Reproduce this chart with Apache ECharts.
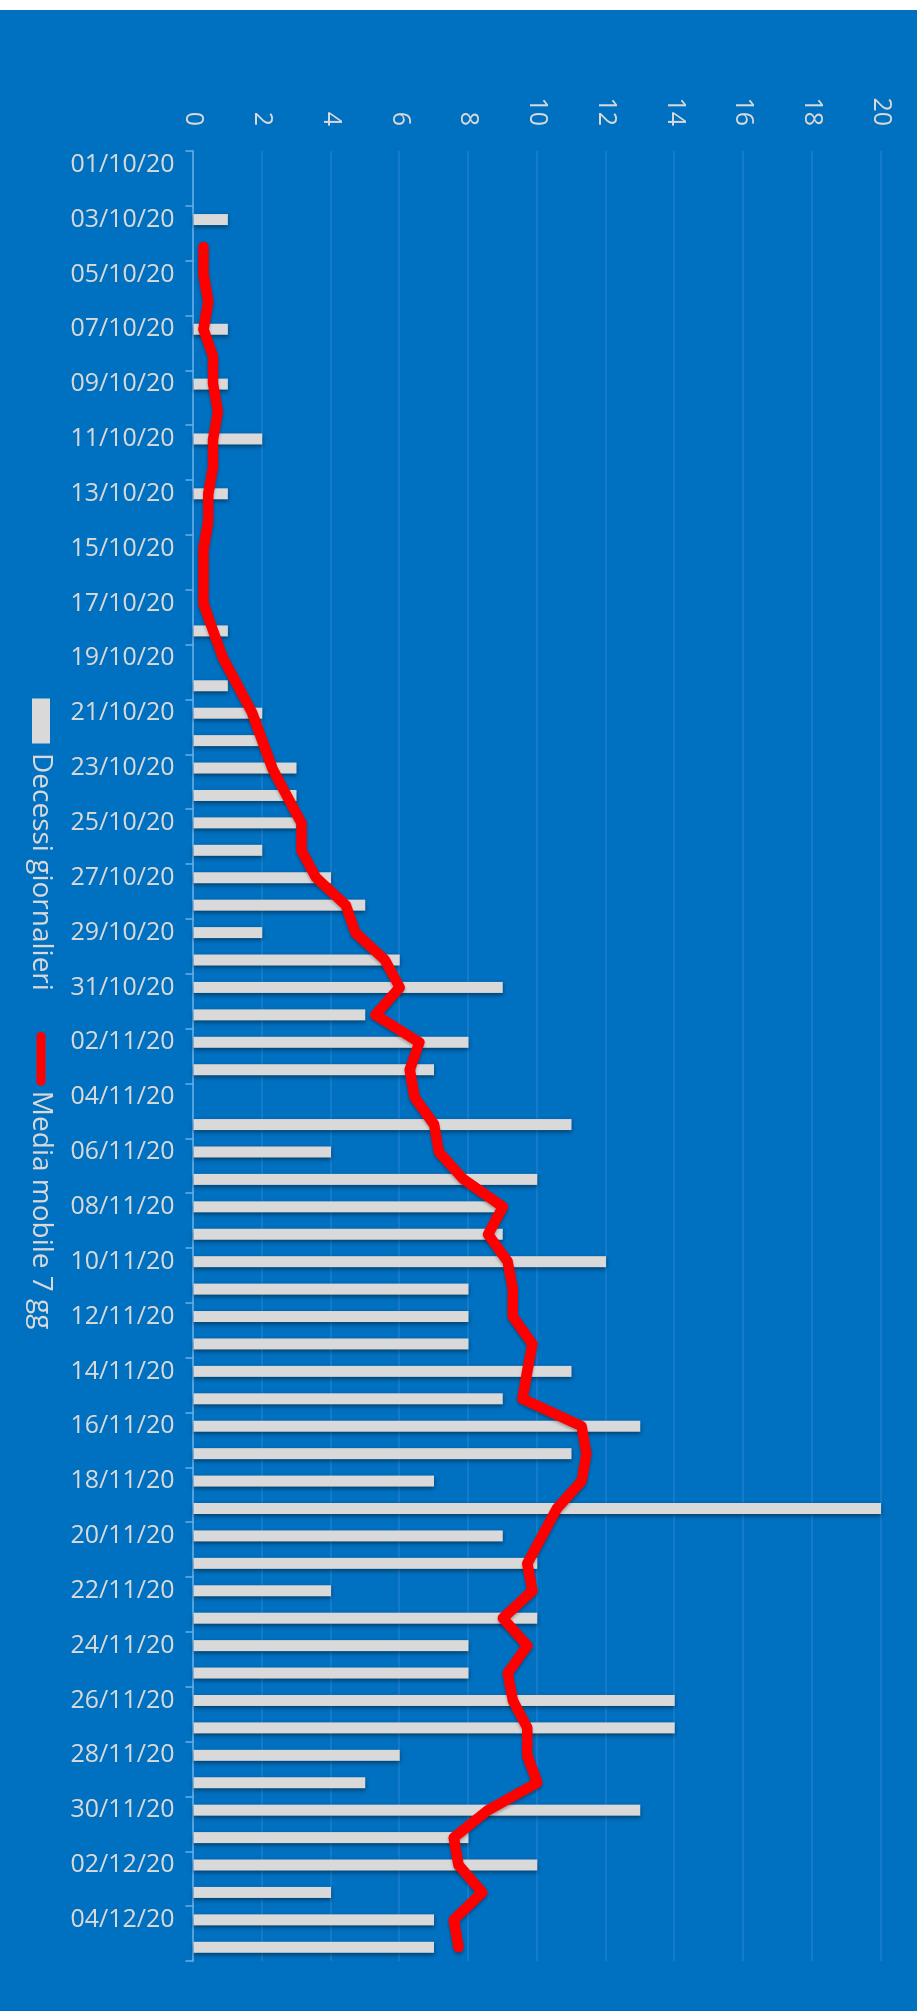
<!DOCTYPE html>
<html>
<head>
<meta charset="utf-8">
<script src="https://cdn.jsdelivr.net/npm/echarts@6/dist/echarts.min.js"></script>
<style>
  html, body { margin: 0; padding: 0; background: #ffffff; width: 917px; height: 2011px; overflow: hidden; }
  #wrap { position: absolute; left: 0; top: 0; width: 2011px; height: 917px;
          transform-origin: 0 0; transform: translate(917px, 0) rotate(90deg); }
  #chart { position: absolute; left: 10px; top: 0; width: 2001px; height: 917px; }
</style>
</head>
<body>
<div id="wrap"><div id="chart"></div></div>
<script>
const categories = [
  '01/10/20','02/10/20','03/10/20','04/10/20','05/10/20','06/10/20','07/10/20','08/10/20','09/10/20','10/10/20',
  '11/10/20','12/10/20','13/10/20','14/10/20','15/10/20','16/10/20','17/10/20','18/10/20','19/10/20','20/10/20',
  '21/10/20','22/10/20','23/10/20','24/10/20','25/10/20','26/10/20','27/10/20','28/10/20','29/10/20','30/10/20',
  '31/10/20',
  '01/11/20','02/11/20','03/11/20','04/11/20','05/11/20','06/11/20','07/11/20','08/11/20','09/11/20','10/11/20',
  '11/11/20','12/11/20','13/11/20','14/11/20','15/11/20','16/11/20','17/11/20','18/11/20','19/11/20','20/11/20',
  '21/11/20','22/11/20','23/11/20','24/11/20','25/11/20','26/11/20','27/11/20','28/11/20','29/11/20','30/11/20',
  '01/12/20','02/12/20','03/12/20','04/12/20','05/12/20'
];
const decessiGiornalieri = [
  0,0,1,0,0,0,1,0,1,0, 2,0,1,0,0,0,0,1,0,1, 2,2,3,3,3,2,4,5,2,6, 9,
  5,8,7,0,11,4,10,9,9,12, 8,8,8,11,9,13,11,7,20,9, 10,4,10,8,8,14,14,6,5,13,
  8,10,4,7,7
];
const mediaMobile7gg = [
  null,null,null,0.29,0.29,0.43,0.29,0.57,0.57,0.71, 0.57,0.57,0.43,0.43,0.29,0.29,0.29,0.57,0.86,1.29,
  1.71,2.0,2.29,2.71,3.14,3.14,3.57,4.43,4.71,5.57, 6.0,
  5.29,6.57,6.29,6.43,7.0,7.14,7.86,9.0,8.57,9.14, 9.29,9.29,9.86,9.71,9.57,11.29,11.43,11.29,10.57,10.14,
  9.71,9.86,9.0,9.71,9.14,9.29,9.71,9.71,10.0,8.57,
  7.57,7.71,8.4,7.57,7.71
];
const valueMin = 0, valueMax = 20, valueStep = 2;
const seriesNames = ['Decessi giornalieri', 'Media mobile 7 gg'];

const txt = '#d9d9d9';
const axisBlue = '#6aaee8';
const chart = echarts.init(document.getElementById('chart'), null, { renderer: 'canvas' });
chart.setOption({
  animation: false,
  backgroundColor: '#0070c0',
  textStyle: { fontFamily: 'Open Sans' },
  grid: { left: 141, right: 50, top: 36, bottom: 193.5, containLabel: false },
  legend: {
    orient: 'horizontal',
    left: 688.5,
    top: 862,
    padding: 0,
    itemWidth: 54,
    itemHeight: 18,
    itemGap: 41,
    symbolKeepAspect: true,
    textStyle: { color: txt, fontSize: 28, fontFamily: 'Open Sans' },
    data: [
      { name: seriesNames[0], icon: 'path://M0,0 L45,0 L45,18 L0,18 Z',
        itemStyle: { color: '#d9d9d9', shadowBlur: 0, shadowOffsetX: 0, shadowColor: 'transparent' } },
      { name: seriesNames[1], icon: 'path://M4.5,0 L49.5,0 A4.5,4.5 0 0 1 49.5,9 L4.5,9 A4.5,4.5 0 0 1 4.5,0 Z',
        itemStyle: { color: '#ff0000', shadowBlur: 0, shadowColor: 'transparent' } }
    ]
  },
  xAxis: {
    type: 'category',
    data: categories,
    position: 'bottom',
    boundaryGap: true,
    axisLine: { show: true, lineStyle: { color: axisBlue, width: 1.5 } },
    axisTick: { show: true, interval: 1, length: 8, lineStyle: { color: axisBlue, width: 1.5 } },
    axisLabel: { interval: 1, rotate: 90, margin: 19, color: txt, fontSize: 25, fontFamily: 'Open Sans' },
    splitLine: { show: false }
  },
  yAxis: {
    type: 'value',
    min: valueMin, max: valueMax, interval: valueStep,
    position: 'left',
    axisLine: { show: false },
    axisTick: { show: false },
    axisLabel: { margin: 25, color: txt, fontSize: 25, fontFamily: 'Open Sans' },
    splitLine: { show: true, lineStyle: { color: '#1d7fcc', width: 1.5 } }
  },
  series: [
    {
      name: seriesNames[0],
      type: 'bar',
      data: decessiGiornalieri,
      barWidth: 11,
      itemStyle: { color: '#d9d9d9', shadowColor: 'rgba(0,0,0,0.45)', shadowBlur: 4, shadowOffsetX: 2 }
    },
    {
      name: seriesNames[1],
      type: 'line',
      data: mediaMobile7gg,
      symbol: 'none',
      connectNulls: false,
      lineStyle: { color: '#ff0000', width: 10.5, cap: 'round', join: 'round',
                   shadowColor: 'rgba(0,0,0,0.3)', shadowBlur: 3, shadowOffsetX: 2 },
      itemStyle: { color: '#ff0000' },
      z: 3
    }
  ]
});
</script>
</body>
</html>
